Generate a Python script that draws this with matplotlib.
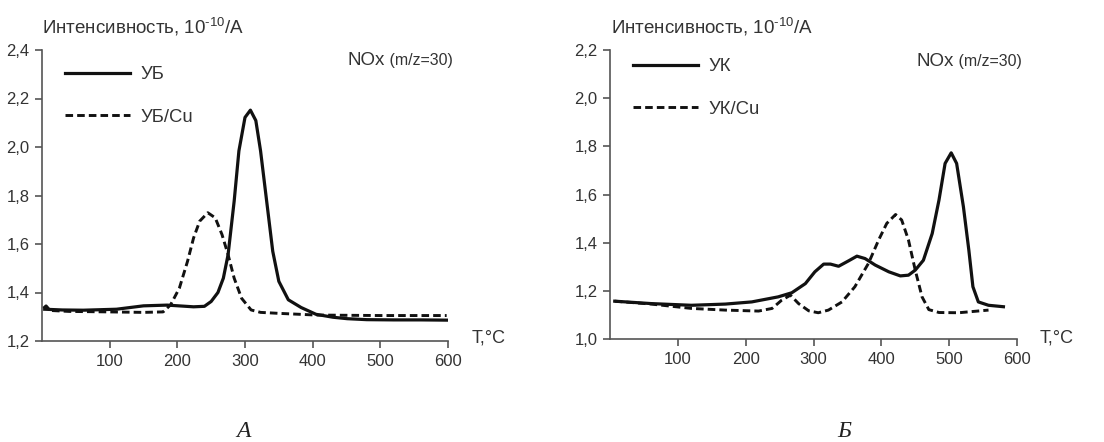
import matplotlib
matplotlib.use("Agg")
import matplotlib.pyplot as plt

# --- данные ---
# панель А: УБ и УБ/Cu
t_ub = [4, 30, 61, 110, 150, 185, 224, 240, 250, 260, 268, 275, 284, 291, 300, 308,
        316, 323, 332, 341, 350, 364, 383, 405, 430, 451, 480, 520, 560, 598]
i_ub = [1.331, 1.328, 1.327, 1.331, 1.345, 1.348, 1.341, 1.343, 1.363, 1.400, 1.459,
        1.556, 1.777, 1.984, 2.122, 2.152, 2.109, 1.984, 1.777, 1.570, 1.446, 1.370,
        1.338, 1.310, 1.298, 1.292, 1.288, 1.287, 1.287, 1.286]

t_ubcu = [2, 6, 12, 40, 100, 150, 179, 190, 203, 215, 224, 233, 245, 256, 266, 275,
          284, 295, 309, 323, 350, 405, 450, 500, 550, 598]
i_ubcu = [1.335, 1.345, 1.326, 1.322, 1.320, 1.318, 1.320, 1.349, 1.418, 1.528, 1.625,
          1.694, 1.729, 1.708, 1.639, 1.556, 1.459, 1.376, 1.328, 1.318, 1.314, 1.307,
          1.306, 1.305, 1.305, 1.305]

# панель Б: УК и УК/Cu
t_uk = [7, 61, 120, 170, 209, 248, 268, 288, 302, 315, 325, 337, 352, 364, 376, 391,
        411, 428, 440, 450, 462, 475, 485, 494, 503, 511, 521, 529, 535, 543, 558, 580]
i_uk = [1.157, 1.147, 1.140, 1.145, 1.154, 1.175, 1.192, 1.230, 1.279, 1.311, 1.311,
        1.302, 1.325, 1.344, 1.334, 1.307, 1.279, 1.262, 1.265, 1.286, 1.327, 1.438,
        1.577, 1.729, 1.773, 1.729, 1.549, 1.369, 1.217, 1.154, 1.140, 1.134]

t_ukcu = [7, 61, 120, 170, 219, 239, 253, 266, 278, 293, 307, 322, 342, 361, 381, 396,
          408, 421, 430, 440, 450, 460, 470, 485, 514, 558]
i_ukcu = [1.157, 1.145, 1.127, 1.120, 1.116, 1.127, 1.161, 1.182, 1.147, 1.117, 1.109,
          1.120, 1.154, 1.217, 1.314, 1.411, 1.480, 1.517, 1.494, 1.411, 1.286, 1.175,
          1.122, 1.110, 1.109, 1.120]

x_ticks = [100, 200, 300, 400, 500, 600]
y_ticks_a = [1.2, 1.4, 1.6, 1.8, 2.0, 2.2, 2.4]
y_labels_a = ["1,2", "1,4", "1,6", "1,8", "2,0", "2,2", "2,4"]
y_ticks_b = [1.0, 1.2, 1.4, 1.6, 1.8, 2.0, 2.2]
y_labels_b = ["1,0", "1,2", "1,4", "1,6", "1,8", "2,0", "2,2"]

plt.rcParams["font.family"] = ["Liberation Sans", "DejaVu Sans"]
plt.rcParams["mathtext.default"] = "regular"

txt = "#333333"
axc = "#555555"
dash = (0, (2.6, 1.4))

W, H = 1104, 442
fig = plt.figure(figsize=(W / 100, H / 100), dpi=100)
ax1 = fig.add_axes([42 / W, 1 - 341 / H, 406 / W, 291 / H])
ax2 = fig.add_axes([610 / W, 1 - 339 / H, 407 / W, 289 / H])


def oformit(ax, yt, yl, ylim):
    ax.set_xlim(0, 600)
    ax.set_ylim(*ylim)
    ax.set_xticks(x_ticks)
    ax.set_yticks(yt)
    ax.set_yticklabels(yl)
    for s in ["top", "right"]:
        ax.spines[s].set_visible(False)
    for s in ["left", "bottom"]:
        ax.spines[s].set_color(axc)
        ax.spines[s].set_linewidth(1.2)
    ax.tick_params(direction="out", length=5, width=1.2, color=axc,
                   labelcolor=txt, labelsize=12, pad=4)
    ax.patch.set_alpha(0)


ax1.plot(t_ub, i_ub, color="#111111", lw=2.3, label="УБ")
ax1.plot(t_ubcu, i_ubcu, color="#111111", lw=2.1, ls=dash, label="УБ/Cu")
oformit(ax1, y_ticks_a, y_labels_a, (1.2, 2.4))

ax2.plot(t_uk, i_uk, color="#111111", lw=2.3, label="УК")
ax2.plot(t_ukcu, i_ukcu, color="#111111", lw=2.1, ls=dash, label="УК/Cu")
oformit(ax2, y_ticks_b, y_labels_b, (1.0, 2.2))

for ax, top in [(ax1, 0.945), (ax2, 0.972)]:
    leg = ax.legend(loc="upper left", bbox_to_anchor=(0.057, top), frameon=False,
                    fontsize=13.3, handlelength=3.5, handletextpad=0.6,
                    labelspacing=1.4, borderpad=0, borderaxespad=0)
    for t in leg.get_texts():
        t.set_color(txt)

# подписи
zag = "Интенсивность, 10$^{\u2010 10}$/A"
fig.text(42 / W, 1 - 27 / H, zag, fontsize=13.5, color=txt, ha="left", va="center")
fig.text(611 / W, 1 - 27 / H, zag, fontsize=13.5, color=txt, ha="left", va="center")

# NOx крупнее, (m/z=30) мельче
rend = fig.canvas.get_renderer()
for xr, yb in [(453, 65), (1022, 66)]:
    mz = fig.text(xr / W, 1 - yb / H, " (m/z=30)", fontsize=11.5, color=txt,
                  ha="right", va="baseline")
    wmz = mz.get_window_extent(rend).width
    fig.text((xr - wmz) / W, 1 - yb / H, "NOx", fontsize=13.5, color=txt,
             ha="right", va="baseline")

fig.text(472 / W, 1 - 338 / H, "T,°C", fontsize=13, color=txt, ha="left", va="center")
fig.text(1040 / W, 1 - 338 / H, "T,°C", fontsize=13, color=txt, ha="left", va="center")

# буквы панелей
fig.text(243 / W, 1 - 437 / H, "А", fontsize=17, family="Liberation Serif",
         style="italic", color="#222222", ha="center", va="baseline")
fig.text(844 / W, 1 - 437 / H, "Б", fontsize=17, family="Liberation Serif",
         style="italic", color="#222222", ha="center", va="baseline")

fig.savefig("out.png", dpi=100, facecolor="white")
